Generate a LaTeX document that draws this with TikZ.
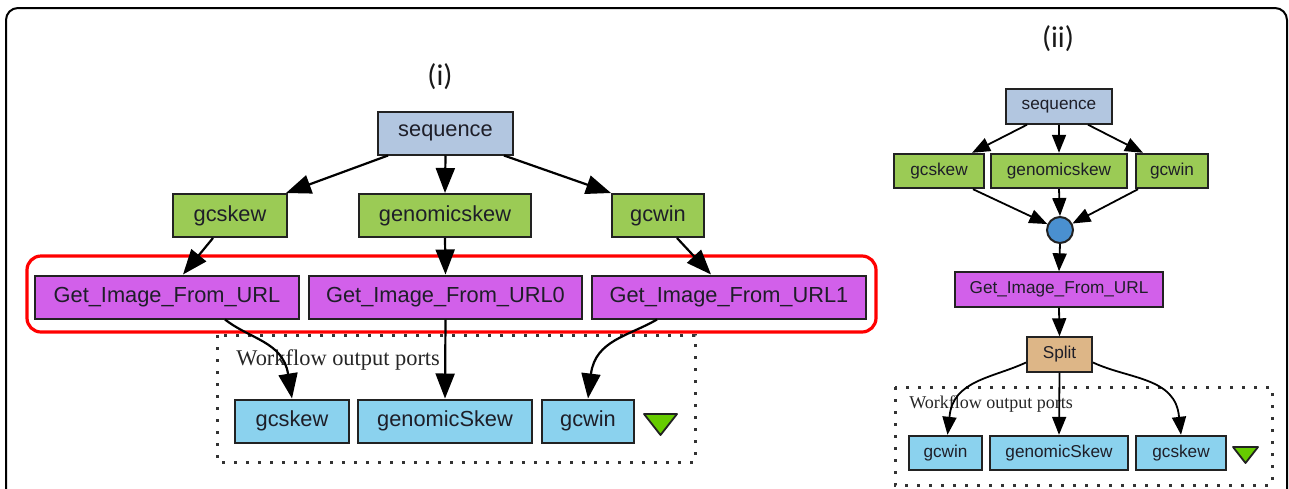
\documentclass[tikz,border=0pt]{standalone}
\usepackage{fontspec}
\setmainfont{Liberation Sans}
\newfontfamily\portserif{Liberation Serif}
\newfontfamily\panelfont{Carlito}
\usetikzlibrary{arrows.meta}
\definecolor{seqblue}{HTML}{B2C6E0}
\definecolor{procgreen}{HTML}{9BCB55}
\definecolor{purp}{HTML}{D260EA}
\definecolor{outblue}{HTML}{8BD2EE}
\definecolor{splitbrown}{HTML}{DDB687}
\definecolor{mergeblue}{HTML}{4A90D0}
\definecolor{trigreen}{HTML}{66CC00}
\definecolor{edgegray}{HTML}{222222}
\definecolor{boxtext}{HTML}{1E1E28}
\begin{document}
\begin{tikzpicture}[x=0.5pt,y=-0.5pt,
  box/.style={draw=edgegray,line width=1pt,inner sep=0pt,text=boxtext},
  big/.style={box,font=\fontsize{10.9}{12}\selectfont,minimum height=21.5pt},
  small/.style={box,font=\fontsize{8.6}{10}\selectfont,minimum height=17.2pt},
  seqA/.style={big,fill=seqblue},
  procA/.style={big,fill=procgreen},
  urlA/.style={big,fill=purp},
  outA/.style={big,fill=outblue},
  seqB/.style={small,fill=seqblue},
  procB/.style={small,fill=procgreen},
  urlB/.style={small,fill=purp},
  outB/.style={small,fill=outblue},
  splitB/.style={small,fill=splitbrown},
  arrA/.style={line width=1.1pt,draw=black,-{Triangle[length=12.5pt,width=9.5pt]}},
  arrB/.style={line width=0.9pt,draw=black,-{Triangle[length=9pt,width=7pt]}},
  dotbox/.style={line width=1.5pt,dash pattern=on 1.3pt off 4.7pt,draw=black!80},
  porttext/.style={font=\portserif\fontsize{11.2}{12}\selectfont,anchor=base west,inner sep=0pt,text=black!85},
  porttextB/.style={font=\portserif\fontsize{9}{10}\selectfont,anchor=base west,inner sep=0pt,text=black!85},
  marker/.style={fill=trigreen,draw=edgegray,line width=0.9pt,line join=round},
  panel/.style={font=\panelfont\fontsize{15}{17}\selectfont,text=black!90}
]
\useasboundingbox (0,0) rectangle (1289,488);
\fill[white] (0,0) rectangle (1289,488);
% outer frame
\draw[line width=1pt,rounded corners=6pt] (6,520) -- (6,8) -- (1287,8) -- (1287,520);

% ---------- panel (i) ----------
\node[panel] (labi) at (440,77) {(i)};
\node[seqA,minimum width=67.5pt] (seq1) at (445.5,133) {sequence};
\node[procA,minimum width=57pt] (gcs1) at (230,215.5) {gcskew};
\node[procA,minimum width=86pt] (gen1) at (445,215.5) {genomicskew};
\node[procA,minimum width=46pt] (gcw1) at (658,215.5) {gcwin};
\node[urlA,minimum width=132pt] (gi1) at (167,297) {Get\_Image\_From\_URL};
\node[urlA,minimum width=136.5pt] (gi2) at (445.5,297) {Get\_Image\_From\_URL0};
\node[urlA,minimum width=137pt] (gi3) at (729,297) {Get\_Image\_From\_URL1};
\draw[red,line width=1.6pt,rounded corners=7pt] (27,256) rectangle (876,332);
\draw[dotbox] (217,335) rectangle (695,462);
\node[porttext] (wfi) at (236,365) {Workflow output ports};
\node[outA,minimum width=57pt] (ogcs1) at (292,421) {gcskew};
\node[outA,minimum width=87pt] (ogen1) at (445,421) {genomicSkew};
\node[outA,minimum width=46pt] (ogcw1) at (588,421) {gcwin};
\draw[marker] (644,414) -- (677,414) -- (660.5,435) -- cycle;

\draw[arrA] ([xshift=-28.75pt]seq1.south) -- ([xshift=-1pt]gcs1.north east);
\draw[arrA] (seq1.south) -- (gen1.north);
\draw[arrA] ([xshift=29.25pt]seq1.south) -- (gcw1.north west);
\draw[arrA] ([xshift=-8.5pt]gcs1.south) -- ([xshift=8pt]gi1.north);
\draw[arrA] (gen1.south) -- (gi2.north);
\draw[arrA] ([xshift=9.5pt]gcw1.south) -- ([xshift=-9pt]gi3.north);
\draw[arrA] ([xshift=29pt]gi1.south) to[out=-38,in=100] ([xshift=-2pt,yshift=12.5pt]ogcs1.north) -- (ogcs1.north);
\draw[arrA] (gi2.south) -- (ogen1.north);
\draw[arrA] ([xshift=-36pt]gi3.south) to[out=-150,in=82] ([xshift=1.5pt,yshift=12.5pt]ogcw1.north) -- (ogcw1.north);

% ---------- panel (ii) ----------
\node[panel] (labii) at (1058,39) {(ii)};
\node[seqB,minimum width=53pt] (seq2) at (1059,106.5) {sequence};
\node[procB,minimum width=45pt] (gcs2) at (939,171) {gcskew};
\node[procB,minimum width=68pt] (gen2) at (1059,171) {genomicskew};
\node[procB,minimum width=36pt] (gcw2) at (1172,171) {gcwin};
\node[circle,draw=edgegray,line width=1pt,fill=mergeblue,minimum size=13pt,inner sep=0pt] (merge) at (1060,230) {};
\node[urlB,minimum width=104pt] (gi4) at (1059,289.5) {Get\_Image\_From\_URL};
\node[splitB,minimum width=32.5pt] (split) at (1059.5,354.5) {Split};
\draw[dotbox] (895,387) rectangle (1272,485);
\node[porttextB] (wfii) at (909,408) {Workflow output ports};
\node[outB,minimum width=36.5pt] (ogcw2) at (945.5,453) {gcwin};
\node[outB,minimum width=69pt] (ogen2) at (1059,453) {genomicSkew};
\node[outB,minimum width=45pt] (ogcs2) at (1181,453) {gcskew};
\draw[marker] (1233,447) -- (1258,447) -- (1245.5,463) -- cycle;

\draw[arrB] ([xshift=-16pt]seq2.south) -- ([xshift=16.5pt]gcs2.north);
\draw[arrB] (seq2.south) -- (gen2.north);
\draw[arrB] ([xshift=14.5pt]seq2.south) -- ([xshift=-14.5pt]gcw2.north);
\draw[arrB] ([xshift=17pt]gcs2.south) -- (merge);
\draw[arrB] (gen2.south) -- (merge.north);
\draw[arrB] ([xshift=-17pt]gcw2.south) -- (merge);
\draw[arrB] (merge.south) -- (gi4.north);
\draw[arrB] (gi4.south) -- (split.north);
\draw[arrB] ([yshift=-4pt]split.west) to[out=-155,in=85] ([xshift=2pt,yshift=9pt]ogcw2.north) -- ([xshift=1pt]ogcw2.north);
\draw[arrB] (split.south) -- (ogen2.north);
\draw[arrB] ([yshift=-4pt]split.east) to[out=-25,in=95] ([xshift=-1pt,yshift=9pt]ogcs2.north) -- (ogcs2.north);
\end{tikzpicture}
\end{document}
